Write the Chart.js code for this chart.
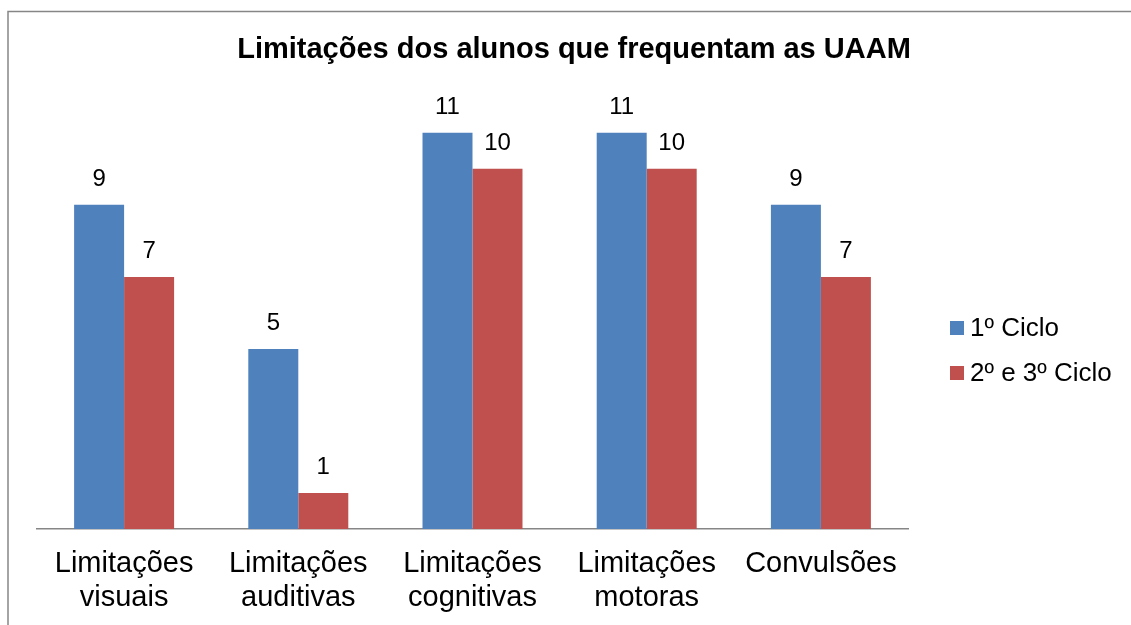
<!DOCTYPE html>
<html>
<head>
<meta charset="utf-8">
<script src="https://cdn.jsdelivr.net/npm/chart.js@4"></script>
<style>
  body { margin: 0; background: #fff; }
  #wrap { width: 1131px; height: 625px; }
</style>
</head>
<body>
<div id="wrap"><canvas id="myChart"></canvas></div>
<script>
const categories = [
  ['Limitações', 'visuais'],
  ['Limitações', 'auditivas'],
  ['Limitações', 'cognitivas'],
  ['Limitações', 'motoras'],
  'Convulsões',
];
const ciclo1 = [9, 5, 11, 11, 9];
const ciclo23 = [7, 1, 10, 10, 7];
const seriesNames = ['1º Ciclo', '2º e 3º Ciclo'];
const chartTitle = 'Limitações dos alunos que frequentam as UAAM';

const FONT = "'Liberation Sans', Arial, sans-serif";
const BLUE = '#4F81BD';
const RED = '#C0504D';

// frame around the chart (only top and left edges are visible)
const framePlugin = {
  id: 'frame',
  beforeDraw(chart) {
    const ctx = chart.ctx;
    ctx.save();
    ctx.strokeStyle = '#868686';
    ctx.lineWidth = 1.5;
    ctx.beginPath();
    ctx.moveTo(8, chart.height);
    ctx.lineTo(8, 11.5);
    ctx.lineTo(chart.width, 11.5);
    ctx.stroke();
    ctx.restore();
  },
};

// value labels above each bar
const valueLabels = {
  id: 'valueLabels',
  afterDatasetsDraw(chart) {
    const ctx = chart.ctx;
    ctx.save();
    ctx.font = '24px ' + FONT;
    ctx.fillStyle = '#000';
    ctx.textAlign = 'center';
    ctx.textBaseline = 'alphabetic';
    chart.data.datasets.forEach((ds, i) => {
      chart.getDatasetMeta(i).data.forEach((bar, j) => {
        ctx.fillText(ds.data[j], bar.x, bar.y - 19);
      });
    });
    ctx.restore();
  },
};

// legend on the right, drawn by hand for exact placement
const sideLegend = {
  id: 'sideLegend',
  afterDraw(chart) {
    const ctx = chart.ctx;
    const x = chart.chartArea.right + 42;
    let y = 328;
    ctx.save();
    ctx.font = '26px ' + FONT;
    ctx.textBaseline = 'middle';
    ctx.textAlign = 'left';
    chart.data.datasets.forEach((ds) => {
      ctx.fillStyle = ds.backgroundColor;
      ctx.fillRect(x, y - 7, 14, 14);
      ctx.fillStyle = '#000';
      ctx.fillText(ds.label, x + 20, y + 1);
      y += 45;
    });
    ctx.restore();
  },
};

const ctx = document.getElementById('myChart').getContext('2d');
const myChart = new Chart(ctx, {
  type: 'bar',
  data: {
    labels: categories,
    datasets: [
      {
        label: seriesNames[0],
        data: ciclo1,
        backgroundColor: BLUE,
        categoryPercentage: 0.574,
        barPercentage: 1,
      },
      {
        label: seriesNames[1],
        data: ciclo23,
        backgroundColor: RED,
        categoryPercentage: 0.574,
        barPercentage: 1,
      },
    ],
  },
  options: {
    responsive: true,
    maintainAspectRatio: false,
    animation: false,
    layout: {
      padding: { left: 17, right: 0, top: 0, bottom: 0 },
    },
    plugins: {
      legend: { display: false },
      tooltip: { enabled: false },
      title: {
        display: true,
        text: chartTitle,
        color: '#000',
        font: { family: FONT, size: 29, weight: 'bold' },
        padding: { top: 33, bottom: 29 },
      },
    },
    scales: {
      x: {
        grid: { display: false, drawTicks: false },
        border: { display: true, color: '#868686', width: 1.5 },
        ticks: {
          color: '#000',
          font: { family: FONT, size: 29, lineHeight: 1.17 },
          padding: 18,
          maxRotation: 0,
          autoSkip: false,
        },
        afterFit: (scale) => {
          scale.height = 96;
        },
      },
      y: {
        min: 0,
        max: 12,
        grid: { display: false, drawTicks: false },
        border: { display: false },
        ticks: { display: false },
        afterFit: (scale) => {
          scale.width = 20;
        },
      },
      yRight: {
        position: 'right',
        grid: { display: false, drawTicks: false },
        border: { display: false },
        ticks: { display: false },
        afterFit: (scale) => {
          scale.width = 223;
        },
      },
    },
  },
  plugins: [framePlugin, valueLabels, sideLegend],
});
</script>
</body>
</html>
